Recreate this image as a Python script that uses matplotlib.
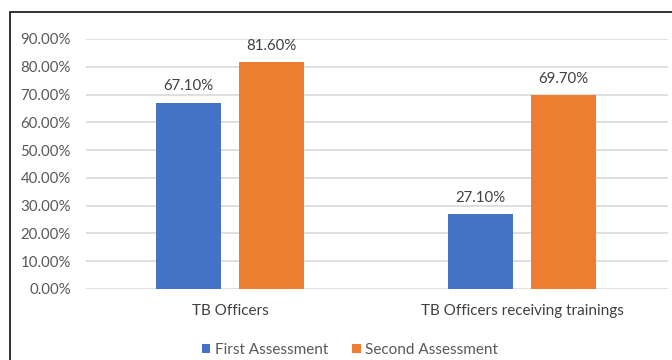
import matplotlib
matplotlib.use("Agg")
import matplotlib.pyplot as plt
from matplotlib.patches import Rectangle
import numpy as np

categories = ["TB Officers", "TB Officers receiving trainings"]
series_names = ["First Assessment", "Second Assessment"]
first_assessment = [67.10, 27.10]
second_assessment = [81.60, 69.70]
yticks = [0, 10, 20, 30, 40, 50, 60, 70, 80, 90]

BLUE = "#4472C4"
ORANGE = "#ED7D31"
TEXT = "#595959"

plt.rcParams["font.family"] = ["Lato", "DejaVu Sans"]

W, H = 672, 360
fig = plt.figure(figsize=(W / 100, H / 100), dpi=100)

# plot area in pixel coordinates
left, right, top, bottom = 86, 668, 39, 289
ax = fig.add_axes([left / W, 1 - bottom / H, (right - left) / W, (bottom - top) / H])

x = np.arange(len(categories))
width = 0.223
offset = 0.141
b1 = ax.bar(x - offset, first_assessment, width, color=BLUE, label=series_names[0], zorder=3)
b2 = ax.bar(x + offset, second_assessment, width, color=ORANGE, label=series_names[1], zorder=3)

for bars, vals in ((b1, first_assessment), (b2, second_assessment)):
    for rect, v in zip(bars, vals):
        ax.annotate(f"{v:.2f}%", (rect.get_x() + rect.get_width() / 2, v),
                    xytext=(0, 6.6), textcoords="offset points", ha="center", va="bottom",
                    fontsize=10.8, color="#404040")

ax.set_ylim(0, 90)
ax.set_xlim(-0.493, 1.5)
ax.set_yticks(yticks)
ax.set_yticklabels([f"{t:.2f}%" for t in yticks], fontsize=10.8, color=TEXT)
ax.set_xticks(x)
ax.set_xticklabels(categories, fontsize=11, color="#404040")
ax.tick_params(axis="both", length=0)
ax.tick_params(axis="y", pad=11)
ax.tick_params(axis="x", pad=11)
ax.grid(axis="y", color="#D9D9D9", linewidth=1.2, zorder=0)
for s in ax.spines.values():
    s.set_visible(False)

leg = fig.legend(handles=[b1, b2], labels=series_names, loc="center",
                 bbox_to_anchor=(350 / W, 1 - 350 / H), ncol=2, frameon=False,
                 fontsize=11, handlelength=0.55, handleheight=0.55, handletextpad=0.3,
                 columnspacing=1.6, borderaxespad=0)
for t in leg.get_texts():
    t.set_color(TEXT)

# outer frame around the chart
fig.add_artist(Rectangle((10 / W, -0.1), 1.2, 1 - 12 / H + 0.1, transform=fig.transFigure,
                         fill=False, edgecolor="#222222", linewidth=1.3, clip_on=False))

fig.savefig("out.png", dpi=100)
